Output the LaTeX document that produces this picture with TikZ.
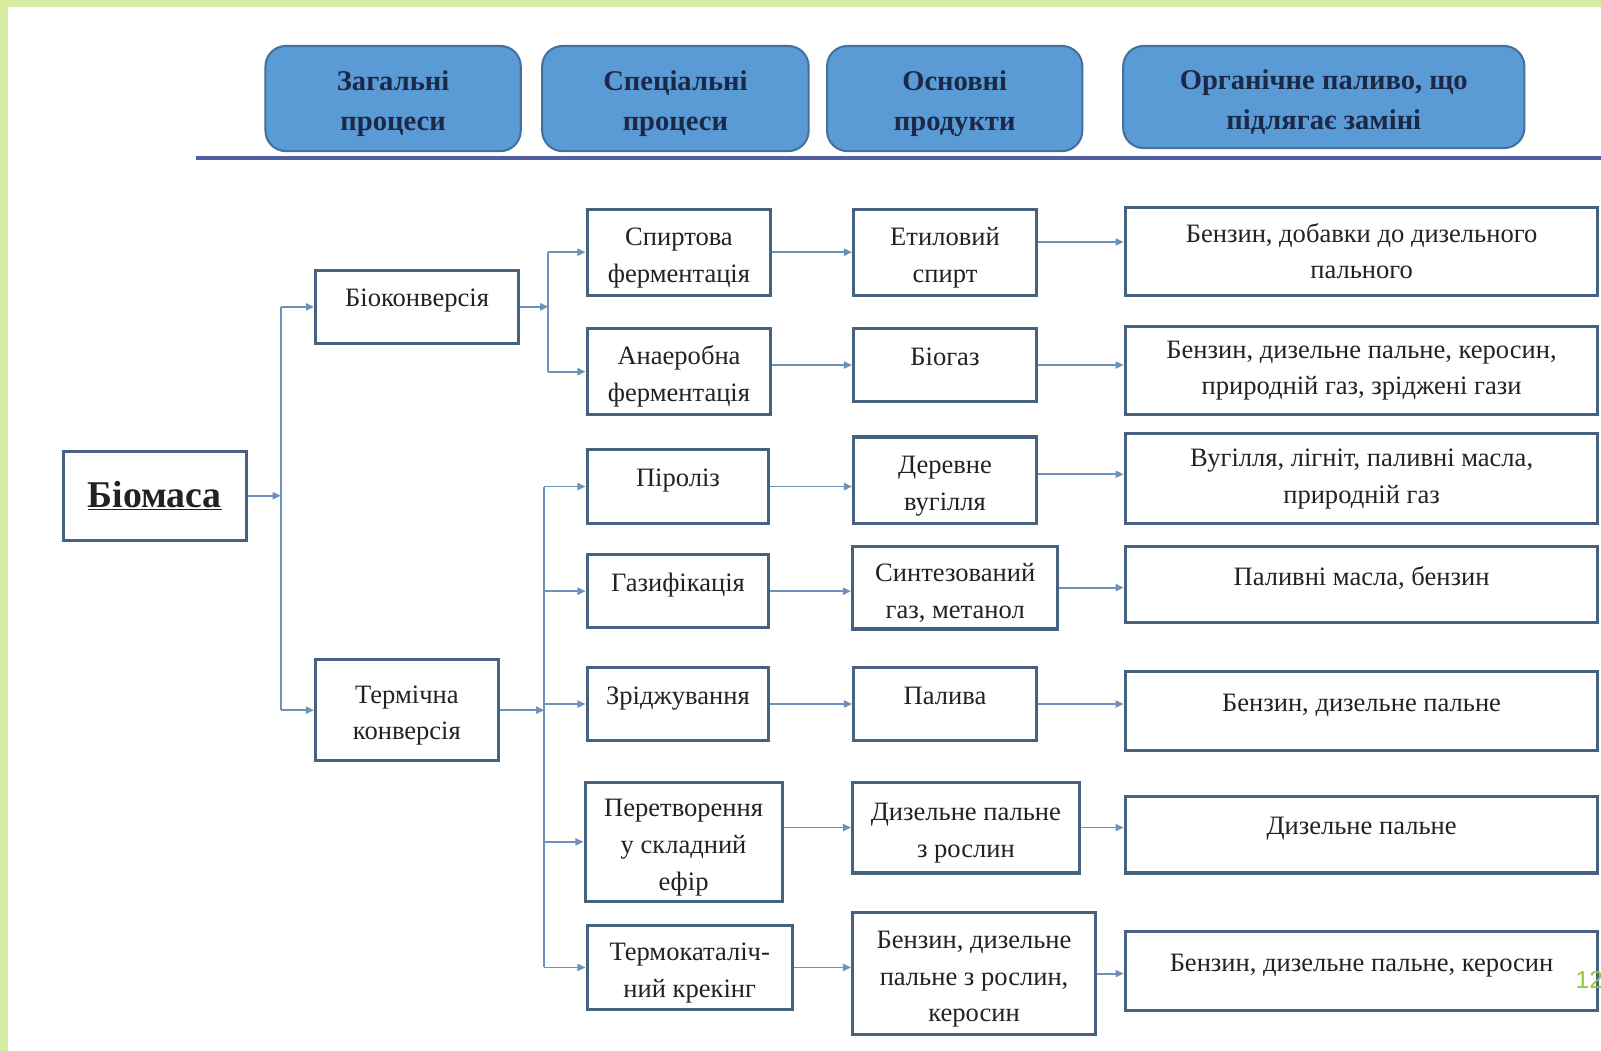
\documentclass[tikz,border=0pt]{standalone}
\usepackage{fontspec}
\setmainfont{Liberation Serif}
\newfontfamily\pnfont{Liberation Sans}
\usetikzlibrary{arrows.meta,calc}
\definecolor{frameg}{RGB}{214,236,160}
\definecolor{hdrfill}{RGB}{91,155,213}
\definecolor{hdrdraw}{RGB}{65,113,156}
\definecolor{hdrtext}{RGB}{27,40,72}
\definecolor{boxdraw}{RGB}{70,98,128}
\definecolor{linec}{RGB}{110,145,188}
\definecolor{rulec}{RGB}{80,94,162}
\definecolor{txtc}{RGB}{34,34,34}
\definecolor{pagenum}{RGB}{146,200,62}
\newcommand\boxfont{\fontsize{26}{36}\selectfont}
\newcommand\hdrfont{\fontsize{28}{39}\selectfont\bfseries}
\newcommand\dn{\rule{0pt}{28pt}}
\newcommand\hdn{\rule{0pt}{30pt}}
\begin{document}
\begin{tikzpicture}[x=1pt,y=1pt,
  hdr/.style={draw=hdrdraw, line width=2pt, fill=hdrfill, rounded corners=20pt,
    align=center, inner sep=0pt, font=\hdrfont, text=hdrtext},
  bx/.style={draw=boxdraw, line width=3pt, fill=white, align=center,
    inner sep=0pt, font=\boxfont, text=txtc},
  one/.style={text depth=17pt},
  conn/.style={draw=linec, line width=1.8pt},
  arr/.style={conn, -{Triangle[length=8pt,width=7pt]}},
]
% background and frame
\fill[frameg] (0,0) rectangle (1568,-1029);
\fill[white] (8,-7) rectangle (1568,-1029);
\useasboundingbox (0,0) rectangle (1568,-1029);

% header boxes
\node[hdr, minimum width=250pt, minimum height=103pt] (h1) at (385,-96.5) {\hdn Загальні\\процеси};
\node[hdr, minimum width=261pt, minimum height=103pt] (h2) at (661.5,-96.5) {\hdn Спеціальні\\процеси};
\node[hdr, minimum width=250pt, minimum height=103pt] (h3) at (935,-96.5) {\hdn Основні\\продукти};
\node[hdr, minimum width=393pt, minimum height=100pt] (h4) at (1296.5,-95) {\hdn Органічне паливо, що\\підлягає заміні};
\coordinate (hl1) at (192,-155);
\coordinate (hl2) at (1568,-155);
\draw[rulec, line width=3.5pt] (hl1) -- (hl2);

% level 1
\node[bx, minimum width=179pt, minimum height=87pt, font=\fontsize{37}{42}\selectfont\bfseries] (bio) at (151.5,-485.5) {\underline{Біомаса}};
% level 2
\node[bx, one, minimum width=199pt, minimum height=71pt] (bk) at (408.5,-300.5) {Біоконверсія};
\node[bx, minimum width=179pt, minimum height=99pt] (term) at (398.5,-695.5) {\dn Термічна\\конверсія};

% special processes
\node[bx, minimum width=180pt, minimum height=84pt] (spirt) at (665,-247) {\dn Спиртова\\ферментація};
\node[bx, minimum width=180pt, minimum height=84pt] (anaer) at (665,-364) {\dn Анаеробна\\ферментація};
\node[bx, one, minimum width=178pt, minimum height=73pt] (piro) at (664,-476.5) {Піроліз};
\node[bx, one, minimum width=178pt, minimum height=72pt] (gaz) at (664,-579) {Газифікація};
\node[bx, one, minimum width=178pt, minimum height=71pt] (zrid) at (664,-689.5) {Зріджування};
\node[bx, minimum width=193pt, minimum height=117pt] (pere) at (669.5,-824.5) {\dn Перетворення\\у складний\\ефір};
\node[bx, minimum width=201pt, minimum height=83pt] (termo) at (675.5,-947.5) {\dn Термокаталіч-\\ний крекінг};

% main products
\node[bx, minimum width=179pt, minimum height=84pt] (etyl) at (925.5,-247) {\dn Етиловий\\спирт};
\node[bx, one, minimum width=179pt, minimum height=71pt] (biogaz) at (925.5,-357.5) {Біогаз};
\node[bx, minimum width=179pt, minimum height=85pt] (derev) at (925.5,-470.5) {\dn Деревне\\вугілля};
\node[bx, minimum width=201pt, minimum height=81pt] (synt) at (935.5,-575.5) {\dn Синтезований\\газ, метанол};
\node[bx, one, minimum width=179pt, minimum height=71pt] (palyva) at (925.5,-689.5) {Палива};
\node[bx, minimum width=222pt, minimum height=89pt] (dyz) at (946,-810.5) {\dn Дизельне пальне\\з рослин};
\node[bx, minimum width=238pt, minimum height=119pt] (benz) at (954,-953.5) {\dn Бензин, дизельне\\пальне з рослин,\\керосин};

% fuels replaced
\node[bx, minimum width=463pt, minimum height=86pt] (f1) at (1333.5,-246) {Бензин, добавки до дизельного\\пального};
\node[bx, minimum width=463pt, minimum height=86pt] (f2) at (1333.5,-363) {Бензин, дизельне пальне, керосин,\\природній газ, зріджені гази};
\node[bx, minimum width=463pt, minimum height=88pt] (f3) at (1333.5,-469) {Вугілля, лігніт, паливні масла,\\природній газ};
\node[bx, one, minimum width=463pt, minimum height=75pt] (f4) at (1333.5,-572.5) {Паливні масла, бензин};
\node[bx, one, minimum width=463pt, minimum height=77pt] (f5) at (1333.5,-696.5) {Бензин, дизельне пальне};
\node[bx, one, minimum width=463pt, minimum height=75pt] (f6) at (1333.5,-817.5) {Дизельне пальне};
\node[bx, one, minimum width=463pt, minimum height=78pt] (f7) at (1333.5,-951) {Бензин, дизельне пальне, керосин};

% page number
\node[anchor=west, inner sep=0pt, font=\pnfont\fontsize{24}{26}\selectfont, text=pagenum] (pn) at (1543,-960) {12};

% trunks
\coordinate (t1) at (275,-485.5);
\coordinate (t2) at (537,-300.5);
\coordinate (t3) at (533,-695.5);

\draw[arr] (bio.east) -- (t1);
\draw[conn] (t1 |- bk.west) -- (t1 |- term.west);
\draw[arr] (t1 |- bk.west) -- (bk.west);
\draw[arr] (t1 |- term.west) -- (term.west);

\draw[arr] (bk.east) -- (t2);
\draw[conn] (t2 |- spirt.west) -- (t2 |- anaer.west);
\draw[arr] (t2 |- spirt.west) -- (spirt.west);
\draw[arr] (t2 |- anaer.west) -- (anaer.west);

\draw[arr] (term.east) -- (t3);
\draw[conn] (t3 |- piro.west) -- (t3 |- termo.west);
\foreach \n in {piro,gaz,zrid,pere,termo}
  \draw[arr] (t3 |- \n.west) -- (\n.west);

% col2 -> col3
\draw[arr] (spirt.east) -- (spirt.east -| etyl.west);
\draw[arr] (biogaz.west -| anaer.east) -- (biogaz.west);
\draw[arr] (piro.east) -- (piro.east -| derev.west);
\draw[arr] (gaz.east) -- (gaz.east -| synt.west);
\draw[arr] (zrid.east) -- (zrid.east -| palyva.west);
\draw[arr] (dyz.west -| pere.east) -- (dyz.west);
\draw[arr] (termo.east) -- (termo.east -| benz.west);

% col3 -> col4
\draw[arr] ([yshift=10pt]etyl.east) -- ([yshift=10pt]etyl.east -| f1.west);
\draw[arr] (biogaz.east) -- (biogaz.east -| f2.west);
\draw[arr] ([yshift=6pt]derev.east) -- ([yshift=6pt]derev.east -| f3.west);
\draw[arr] (synt.east) -- (synt.east -| f4.west);
\draw[arr] (palyva.east) -- (palyva.east -| f5.west);
\draw[arr] (dyz.east) -- (dyz.east -| f6.west);
\draw[arr] (benz.east) -- (benz.east -| f7.west);
\end{tikzpicture}
\end{document}
